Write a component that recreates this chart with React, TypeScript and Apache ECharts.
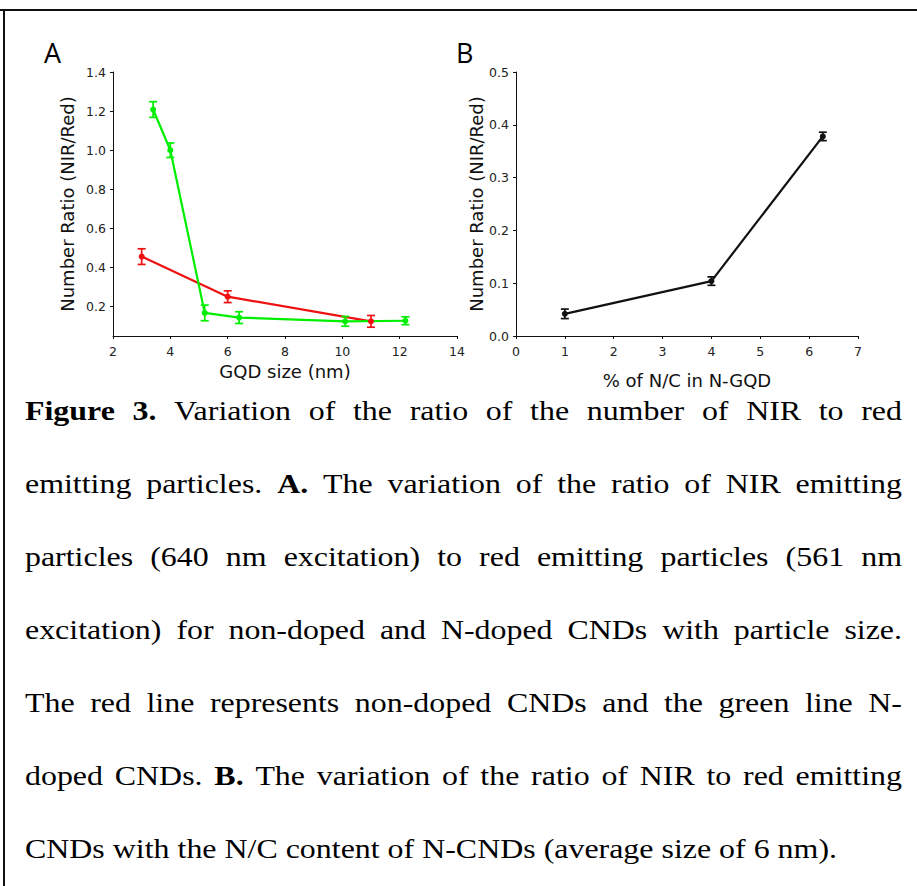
import React, { useEffect, useRef } from "react";
import * as echarts from "echarts";

// ---- Panel A: GQD size vs number ratio ----
const sizeRed = [3.0, 6.0, 11.0];
const ratioRed = [0.456, 0.251, 0.125];
const errRed = [0.04, 0.03, 0.03];

const sizeGreen = [3.4, 4.0, 5.2, 6.4, 10.1, 12.2];
const ratioGreen = [1.208, 1.0, 0.168, 0.144, 0.125, 0.128];
const errGreen = [0.04, 0.037, 0.04, 0.03, 0.025, 0.02];

const yTicksA = [0.2, 0.4, 0.6, 0.8, 1.0, 1.2, 1.4];

// ---- Panel B: % N/C vs number ratio ----
const ncPercent = [1.0, 4.0, 6.28];
const ratioNC = [0.042, 0.104, 0.378];
const errNC = [0.009, 0.008, 0.008];

// ---- Caption ----
type Seg = { t: string; b: boolean };
const captionLines: Seg[][] = [
  [{ t: "Figure 3.", b: true }, { t: "Variation of the ratio of the number of NIR to red", b: false }],
  [{ t: "emitting particles.", b: false }, { t: "A.", b: true }, { t: "The variation of the ratio of NIR emitting", b: false }],
  [{ t: "particles (640 nm excitation) to red emitting particles (561 nm", b: false }],
  [{ t: "excitation)  for non-doped and N-doped CNDs with particle size.", b: false }],
  [{ t: "The red line represents non-doped CNDs and the green line N-", b: false }],
  [{ t: "doped CNDs.", b: false }, { t: "B.", b: true }, { t: "The variation of the ratio of NIR to red emitting", b: false }],
  [{ t: "CNDs with the N/C content of N-CNDs (average size of 6 nm).", b: false }],
];

const RED = "#ee1111";
const GREEN = "#00ee00";
const BLACK = "#111111";
const SANS = "DejaVu Sans";
const SERIF = "Liberation Serif";

function errorSeries(xs: number[], ys: number[], es: number[], color: string, axisIndex: number) {
  return {
    type: "custom",
    xAxisIndex: axisIndex,
    yAxisIndex: axisIndex,
    z: 4,
    silent: true,
    encode: { x: 0, y: [1, 2] },
    data: xs.map((x, i) => [x, ys[i] - es[i], ys[i] + es[i]]),
    renderItem: (params: any, api: any) => {
      const lo = api.coord([api.value(0), api.value(1)]);
      const hi = api.coord([api.value(0), api.value(2)]);
      const w = 4;
      const style = { stroke: color, lineWidth: 1.7 };
      return {
        type: "group",
        children: [
          { type: "line", shape: { x1: lo[0], y1: lo[1], x2: hi[0], y2: hi[1] }, style },
          { type: "line", shape: { x1: lo[0] - w, y1: lo[1], x2: lo[0] + w, y2: lo[1] }, style },
          { type: "line", shape: { x1: hi[0] - w, y1: hi[1], x2: hi[0] + w, y2: hi[1] }, style },
        ],
      };
    },
  };
}

function lineSeries(xs: number[], ys: number[], color: string, axisIndex: number) {
  return {
    type: "line",
    xAxisIndex: axisIndex,
    yAxisIndex: axisIndex,
    z: 3,
    data: xs.map((x, i) => [x, ys[i]]),
    symbol: "circle",
    symbolSize: 6,
    itemStyle: { color },
    lineStyle: { color, width: 2.2 },
  };
}

function captionGraphics(): any[] {
  const canvas = document.createElement("canvas");
  const ctx = canvas.getContext("2d")!;
  const fontSize = 28;
  const stretch = 1.14;
  const left = 25;
  const right = 902;
  const firstBaseline = 420;
  const lineStep = 73;
  const out: any[] = [];
  captionLines.forEach((segs, li) => {
    const words: { t: string; b: boolean; w: number }[] = [];
    segs.forEach((s) => {
      s.t.split(/\s+/).filter((w) => w.length > 0).forEach((w) => {
        ctx.font = `${s.b ? "bold " : ""}${fontSize}px "${SERIF}"`;
        words.push({ t: w, b: s.b, w: ctx.measureText(w).width * stretch });
      });
    });
    ctx.font = `${fontSize}px "${SERIF}"`;
    const spaceW = ctx.measureText(" ").width * stretch;
    const total = words.reduce((a, w) => a + w.w, 0);
    const isLast = li === captionLines.length - 1;
    const gap = isLast ? spaceW : (right - left - total) / (words.length - 1);
    let x = left;
    const y = firstBaseline + li * lineStep - 9.5;
    words.forEach((w) => {
      out.push({
        type: "text",
        x,
        y,
        scaleX: stretch,
        silent: true,
        style: {
          text: w.t,
          fill: "#000",
          fontFamily: SERIF,
          fontSize,
          fontWeight: w.b ? "bold" : "normal",
          align: "left",
          verticalAlign: "middle",
        },
      });
      x += w.w + gap;
    });
  });
  return out;
}

const axisLabelStyle = { color: "#222", fontFamily: SANS, fontSize: 12.5 };
const nameStyle = { color: "#111", fontFamily: SANS, fontSize: 18 };
const axisLineStyle = { lineStyle: { color: "#111", width: 1 } };
const tickStyle = { show: true, inside: false, length: 3, lineStyle: { color: "#111", width: 1 } };

export default function App() {
  const ref = useRef<HTMLDivElement>(null);
  useEffect(() => {
    if (!ref.current) return;
    const chart = echarts.init(ref.current, undefined, { renderer: "svg" });
    const option: any = {
      animation: false,
      backgroundColor: "#ffffff",
      grid: [
        { left: 113, top: 72, width: 344, height: 264 },
        { left: 516, top: 72, width: 342, height: 264 },
      ],
      xAxis: [
        {
          type: "value",
          gridIndex: 0,
          min: 2,
          max: 14,
          interval: 2,
          name: "GQD size (nm)",
          nameLocation: "middle",
          nameGap: 26,
          nameTextStyle: nameStyle,
          axisLine: axisLineStyle,
          axisTick: tickStyle,
          axisLabel: { ...axisLabelStyle, margin: 9 },
          splitLine: { show: false },
        },
        {
          type: "value",
          gridIndex: 1,
          min: 0,
          max: 7,
          interval: 1,
          name: "% of N/C in N-GQD",
          nameLocation: "middle",
          nameGap: 35,
          nameTextStyle: nameStyle,
          axisLine: axisLineStyle,
          axisTick: tickStyle,
          axisLabel: { ...axisLabelStyle, margin: 9 },
          splitLine: { show: false },
        },
      ],
      yAxis: [
        {
          type: "value",
          gridIndex: 0,
          min: 0.05,
          max: 1.4,
          name: "Number Ratio (NIR/Red)",
          nameLocation: "middle",
          nameGap: 37,
          nameRotate: 90,
          nameTextStyle: nameStyle,
          axisLine: { show: true, ...axisLineStyle },
          axisTick: { ...tickStyle, customValues: yTicksA },
          axisLabel: {
            ...axisLabelStyle,
            margin: 7,
            customValues: yTicksA,
            formatter: (v: number) => v.toFixed(1),
          },
          splitLine: { show: false },
        },
        {
          type: "value",
          gridIndex: 1,
          min: 0,
          max: 0.5,
          interval: 0.1,
          name: "Number Ratio (NIR/Red)",
          nameLocation: "middle",
          nameGap: 28,
          nameRotate: 90,
          nameTextStyle: nameStyle,
          axisLine: { show: true, ...axisLineStyle },
          axisTick: tickStyle,
          axisLabel: { ...axisLabelStyle, margin: 7, formatter: (v: number) => v.toFixed(1) },
          splitLine: { show: false },
        },
      ],
      series: [
        lineSeries(sizeRed, ratioRed, RED, 0),
        errorSeries(sizeRed, ratioRed, errRed, RED, 0),
        lineSeries(sizeGreen, ratioGreen, GREEN, 0),
        errorSeries(sizeGreen, ratioGreen, errGreen, GREEN, 0),
        lineSeries(ncPercent, ratioNC, BLACK, 1),
        errorSeries(ncPercent, ratioNC, errNC, BLACK, 1),
      ],
      graphic: [
        { type: "line", silent: true, shape: { x1: 0, y1: 10, x2: 917, y2: 10 }, style: { stroke: "#111", lineWidth: 2 } },
        { type: "line", silent: true, shape: { x1: 4, y1: 9, x2: 4, y2: 886 }, style: { stroke: "#111", lineWidth: 2 } },
        {
          type: "text",
          x: 44,
          y: 52,
          silent: true,
          style: { text: "A", fill: "#000", fontFamily: "Open Sans", fontSize: 27, align: "left", verticalAlign: "middle" },
        },
        {
          type: "text",
          x: 456,
          y: 52,
          silent: true,
          style: { text: "B", fill: "#000", fontFamily: "Open Sans", fontSize: 27, align: "left", verticalAlign: "middle" },
        },
        ...captionGraphics(),
      ],
    };
    chart.setOption(option);
    return () => chart.dispose();
  }, []);
  return (
    <div
      ref={ref}
      style={{ position: "fixed", left: 0, top: 0, width: 917, height: 886, background: "#fff" }}
    />
  );
}
